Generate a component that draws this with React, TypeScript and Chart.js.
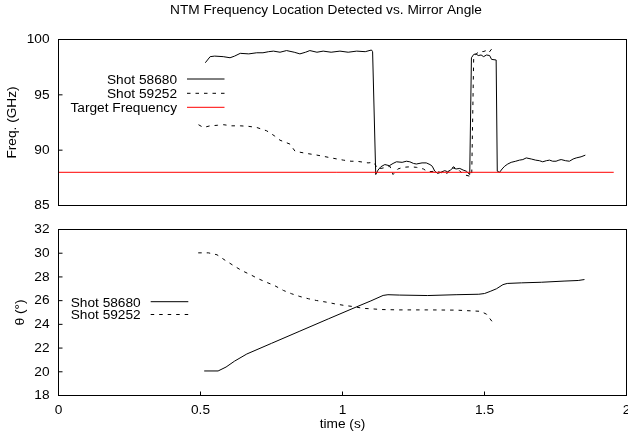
import React, { useEffect, useRef } from "react";
import { Chart, registerables } from "chart.js";

Chart.register(...registerables);

const FONT_FAMILY = "'Liberation Sans', Arial, Helvetica, sans-serif";
const FONT_SIZE = 13.7;

const chartTitle = "NTM Frequency Location Detected vs. Mirror Angle";
const freqAxisTitle = "Freq. (GHz)";
const angleAxisTitle = "θ (°)";
const timeAxisTitle = "time (s)";

const timeTicks = [0, 0.5, 1, 1.5, 2];
const freqTicks = [85, 90, 95, 100];
const angleTicks = [18, 20, 22, 24, 26, 28, 30, 32];

// ---- top panel: frequency ----
const freqTime58680 = [
  0.517, 0.534, 0.55, 0.58, 0.604, 0.62, 0.64, 0.67, 0.698, 0.72, 0.74, 0.757, 0.78, 0.803, 0.83, 0.85,
  0.87, 0.885, 0.91, 0.932, 0.96, 0.991, 1.02, 1.05, 1.08, 1.102, 1.106, 1.117, 1.125, 1.135, 1.149,
  1.165, 1.178, 1.19, 1.21, 1.225, 1.237, 1.25, 1.26, 1.28, 1.295, 1.308, 1.316, 1.325, 1.335, 1.346,
  1.36, 1.37, 1.38, 1.389, 1.4, 1.413, 1.425, 1.436, 1.448, 1.454, 1.462, 1.47, 1.478, 1.488, 1.497,
  1.507, 1.518, 1.525, 1.541, 1.545, 1.553, 1.562, 1.571, 1.582, 1.594, 1.61, 1.623, 1.635, 1.647,
  1.665, 1.68, 1.693, 1.705, 1.718, 1.729, 1.74, 1.752, 1.762, 1.77, 1.785, 1.799, 1.812, 1.823, 1.84,
  1.855,
];
const freq58680 = [
  97.9, 98.45, 98.5, 98.45, 98.35, 98.5, 98.75, 98.7, 98.8, 98.8, 98.9, 98.95, 98.85, 99.0, 98.85, 98.7,
  98.85, 99.0, 98.85, 98.95, 98.85, 98.95, 98.85, 98.95, 98.9, 99.05, 98.9, 87.8, 88.2, 88.5, 88.7,
  88.6, 88.8, 88.95, 88.9, 89.0, 88.95, 88.8, 88.75, 88.85, 88.85, 88.7, 88.55, 88.1, 87.9, 88.0,
  88.15, 88.05, 88.2, 88.4, 88.3, 88.35, 88.2, 88.1, 87.8, 98.35, 98.65, 98.7, 98.55, 98.6, 98.45,
  98.6, 98.55, 98.2, 98.15, 88.1, 88.0, 88.3, 88.55, 88.75, 88.9, 89.0, 89.1, 89.15, 89.3,
  89.2, 89.1, 89.05, 88.95, 89.05, 89.1, 89.0, 89.0, 89.1, 89.15, 89.05, 89.0, 89.2, 89.3, 89.4,
  89.55,
];
const freqTime59252 = [
  0.493, 0.51, 0.534, 0.56, 0.581, 0.61, 0.64, 0.67, 0.698, 0.733, 0.76, 0.78, 0.815, 0.833, 0.874,
  0.9, 0.932, 0.96, 1.003, 1.03, 1.05, 1.09, 1.11, 1.125, 1.145, 1.167, 1.178, 1.195, 1.213, 1.24,
  1.26, 1.285, 1.3, 1.33, 1.35, 1.366, 1.39, 1.41, 1.425, 1.448, 1.455, 1.462, 1.483, 1.495, 1.506,
  1.515, 1.527,
];
const freq59252 = [
  92.3, 92.05, 92.2, 92.25, 92.3, 92.2, 92.2, 92.15, 92.05, 91.75, 91.3, 90.9, 90.55, 89.9, 89.7,
  89.6, 89.45, 89.3, 89.1, 89.0, 89.0, 88.85, 88.9, 88.3, 88.4, 88.55, 87.8, 88.3, 88.45, 88.5,
  88.45, 88.3, 88.05, 88.1, 87.95, 87.85, 88.5, 88.2, 87.8, 87.65, 87.7, 98.5, 98.95, 98.9, 99.0,
  98.8, 99.2,
];
const targetTime = [0, 1.955];
const targetFreq = [88, 88];

// ---- bottom panel: mirror angle ----
const angleTime58680 = [
  0.513, 0.562, 0.59, 0.62, 0.663, 0.75, 0.85, 0.95, 1.05, 1.1, 1.143, 1.16, 1.2, 1.3, 1.4, 1.48, 1.5,
  1.52, 1.542, 1.565, 1.58, 1.63, 1.7, 1.78, 1.83, 1.852,
];
const angle58680 = [
  20.07, 20.07, 20.4, 20.9, 21.5, 22.4, 23.43, 24.46, 25.48, 25.98, 26.44, 26.5, 26.47, 26.43, 26.5,
  26.54, 26.6, 26.78, 27.0, 27.35, 27.45, 27.5, 27.55, 27.65, 27.7, 27.78,
];
const angleTime59252 = [
  0.492, 0.528, 0.558, 0.587, 0.616, 0.645, 0.675, 0.704, 0.731, 0.76, 0.792, 0.821, 0.85, 0.88,
  0.909, 0.944, 0.973, 1.008, 1.038, 1.073, 1.108, 1.137, 1.2, 1.3, 1.4, 1.486, 1.507, 1.528,
];
const angle59252 = [
  30.03, 30.03, 29.87, 29.4, 28.96, 28.54, 28.2, 27.84, 27.56, 27.28, 26.86, 26.58, 26.35, 26.16,
  26.01, 25.87, 25.73, 25.59, 25.5, 25.35, 25.3, 25.25, 25.22, 25.22, 25.2, 25.1, 24.86, 24.2,
];

const toPoints = (xs: number[], ys: number[]) => xs.map((x, i) => ({ x, y: ys[i] }));

const font = (size = FONT_SIZE) => ({ family: FONT_FAMILY, size, lineHeight: 1.2 });

const zeroPadding = (s: any) => {
  s.paddingLeft = 0;
  s.paddingRight = 0;
  s.paddingTop = 0;
  s.paddingBottom = 0;
};

type FrameCfg = {
  xTicks: boolean;
  legendRight: number;
  lineStart: number;
  lineEnd: number;
  rows: number[];
  title?: { text: string; x: number; y: number };
};

function makeFramePlugin(cfg: FrameCfg) {
  return {
    id: "gnuFrame",
    afterDatasetsDraw(chart: any) {
      const { ctx, chartArea: a } = chart;
      ctx.save();
      ctx.strokeStyle = "#000";
      ctx.lineWidth = 1;
      ctx.setLineDash([]);
      ctx.strokeRect(a.left, a.top, a.right - a.left, a.bottom - a.top);
      const ys = chart.scales.y;
      ctx.beginPath();
      ys.ticks.forEach((t: any) => {
        const p = ys.getPixelForValue(t.value);
        ctx.moveTo(a.left, p);
        ctx.lineTo(a.left + 4, p);
      });
      if (cfg.xTicks) {
        const xs = chart.scales.x;
        xs.ticks.forEach((t: any) => {
          const p = xs.getPixelForValue(t.value);
          ctx.moveTo(p, a.bottom);
          ctx.lineTo(p, a.bottom - 4);
        });
      }
      ctx.stroke();

      // legend
      ctx.font = `${FONT_SIZE}px ${FONT_FAMILY}`;
      ctx.fillStyle = "#000";
      ctx.textAlign = "right";
      ctx.textBaseline = "alphabetic";
      chart.data.datasets.forEach((ds: any, i: number) => {
        const y = cfg.rows[i];
        if (y === undefined) return;
        ctx.fillText(ds.label, cfg.legendRight, y + 4.9);
        ctx.beginPath();
        ctx.strokeStyle = ds.borderColor;
        ctx.lineWidth = ds.borderWidth;
        ctx.setLineDash(ds.borderDash || []);
        ctx.moveTo(cfg.lineStart, y);
        ctx.lineTo(cfg.lineEnd, y);
        ctx.stroke();
      });
      ctx.setLineDash([]);

      if (cfg.title) {
        ctx.textAlign = "center";
        ctx.fillStyle = "#000";
        ctx.fillText(cfg.title.text, cfg.title.x, cfg.title.y);
      }
      ctx.restore();
    },
  };
}

const solidStyle = { borderColor: "#000", borderWidth: 1, borderDash: [] as number[] };
const dashedStyle = { borderColor: "#000", borderWidth: 1, borderDash: [3.5, 5] };
const redStyle = { borderColor: "#ff0000", borderWidth: 1, borderDash: [] as number[] };

const commonDs = {
  pointRadius: 0,
  pointHoverRadius: 0,
  tension: 0,
  fill: false,
  borderJoinStyle: "round" as const,
  borderCapStyle: "butt" as const,
};

function yScale(ticks: number[], title: string, titlePad: number) {
  return {
    type: "linear" as const,
    min: ticks[0],
    max: ticks[ticks.length - 1],
    afterBuildTicks: (s: any) => {
      s.ticks = ticks.map((v) => ({ value: v }));
    },
    afterFit: (s: any) => {
      s.width = 58.5;
      zeroPadding(s);
    },
    grid: { display: false, drawTicks: false },
    border: { display: false },
    ticks: { font: font(), color: "#000", padding: 9, callback: (v: any) => String(v) },
    title: { display: true, text: title, font: font(), color: "#000", padding: { top: titlePad, bottom: 0 } },
  };
}

export default function App() {
  const topRef = useRef<HTMLCanvasElement>(null);
  const botRef = useRef<HTMLCanvasElement>(null);

  useEffect(() => {
    const top = new Chart(topRef.current as HTMLCanvasElement, {
      type: "line",
      data: {
        datasets: [
          { label: "Shot 58680", data: toPoints(freqTime58680, freq58680), ...commonDs, ...solidStyle, order: 2 },
          { label: "Shot 59252", data: toPoints(freqTime59252, freq59252), ...commonDs, ...dashedStyle, order: 3 },
          { label: "Target Frequency", data: toPoints(targetTime, targetFreq), ...commonDs, ...redStyle, order: 1 },
        ],
      },
      options: {
        animation: false,
        responsive: false,
        events: [],
        layout: { autoPadding: false, padding: { left: 0, right: 1.5, top: 39.5, bottom: 9.5 } },
        plugins: { legend: { display: false }, tooltip: { enabled: false }, title: { display: false } },
        scales: {
          x: { type: "linear", min: 0, max: 2, display: false, afterFit: zeroPadding },
          y: yScale(freqTicks, freqAxisTitle, 4.3),
        },
      },
      plugins: [
        makeFramePlugin({
          xTicks: false,
          legendRight: 177,
          lineStart: 187,
          lineEnd: 224.5,
          rows: [79, 93.3, 107.3],
          title: { text: chartTitle, x: 326, y: 14 },
        }),
      ],
    } as any);

    const bot = new Chart(botRef.current as HTMLCanvasElement, {
      type: "line",
      data: {
        datasets: [
          { label: "Shot 58680", data: toPoints(angleTime58680, angle58680), ...commonDs, ...solidStyle },
          { label: "Shot 59252", data: toPoints(angleTime59252, angle59252), ...commonDs, ...dashedStyle },
        ],
      },
      options: {
        animation: false,
        responsive: false,
        events: [],
        layout: { autoPadding: false, padding: { left: 0, right: 1.5, top: 14.5, bottom: 0 } },
        plugins: { legend: { display: false }, tooltip: { enabled: false }, title: { display: false } },
        scales: {
          x: {
            type: "linear",
            min: timeTicks[0],
            max: timeTicks[timeTicks.length - 1],
            afterBuildTicks: (s: any) => {
              s.ticks = timeTicks.map((v) => ({ value: v }));
            },
            afterFit: (s: any) => {
              s.height = 47.5;
              zeroPadding(s);
            },
            grid: { display: false, drawTicks: false },
            border: { display: false },
            ticks: { font: font(), color: "#000", padding: 7, maxRotation: 0, autoSkip: false, callback: (v: any) => String(v) },
            title: { display: true, text: timeAxisTitle, font: font(), color: "#000", padding: { top: 0, bottom: 10.8 } },
          },
          y: yScale(angleTicks, angleAxisTitle, 12.3),
        },
      },
      plugins: [
        makeFramePlugin({
          xTicks: true,
          legendRight: 140.7,
          lineStart: 150.7,
          lineEnd: 188.3,
          rows: [86.7, 99.5],
        }),
      ],
    } as any);

    return () => {
      top.destroy();
      bot.destroy();
    };
  }, []);

  return (
    <div style={{ position: "absolute", left: 0, top: 0, width: 628, height: 443, background: "#fff" }}>
      <canvas ref={topRef} width={628} height={215} style={{ position: "absolute", left: 0, top: 0 }} />
      <canvas ref={botRef} width={628} height={228} style={{ position: "absolute", left: 0, top: 215 }} />
    </div>
  );
}
